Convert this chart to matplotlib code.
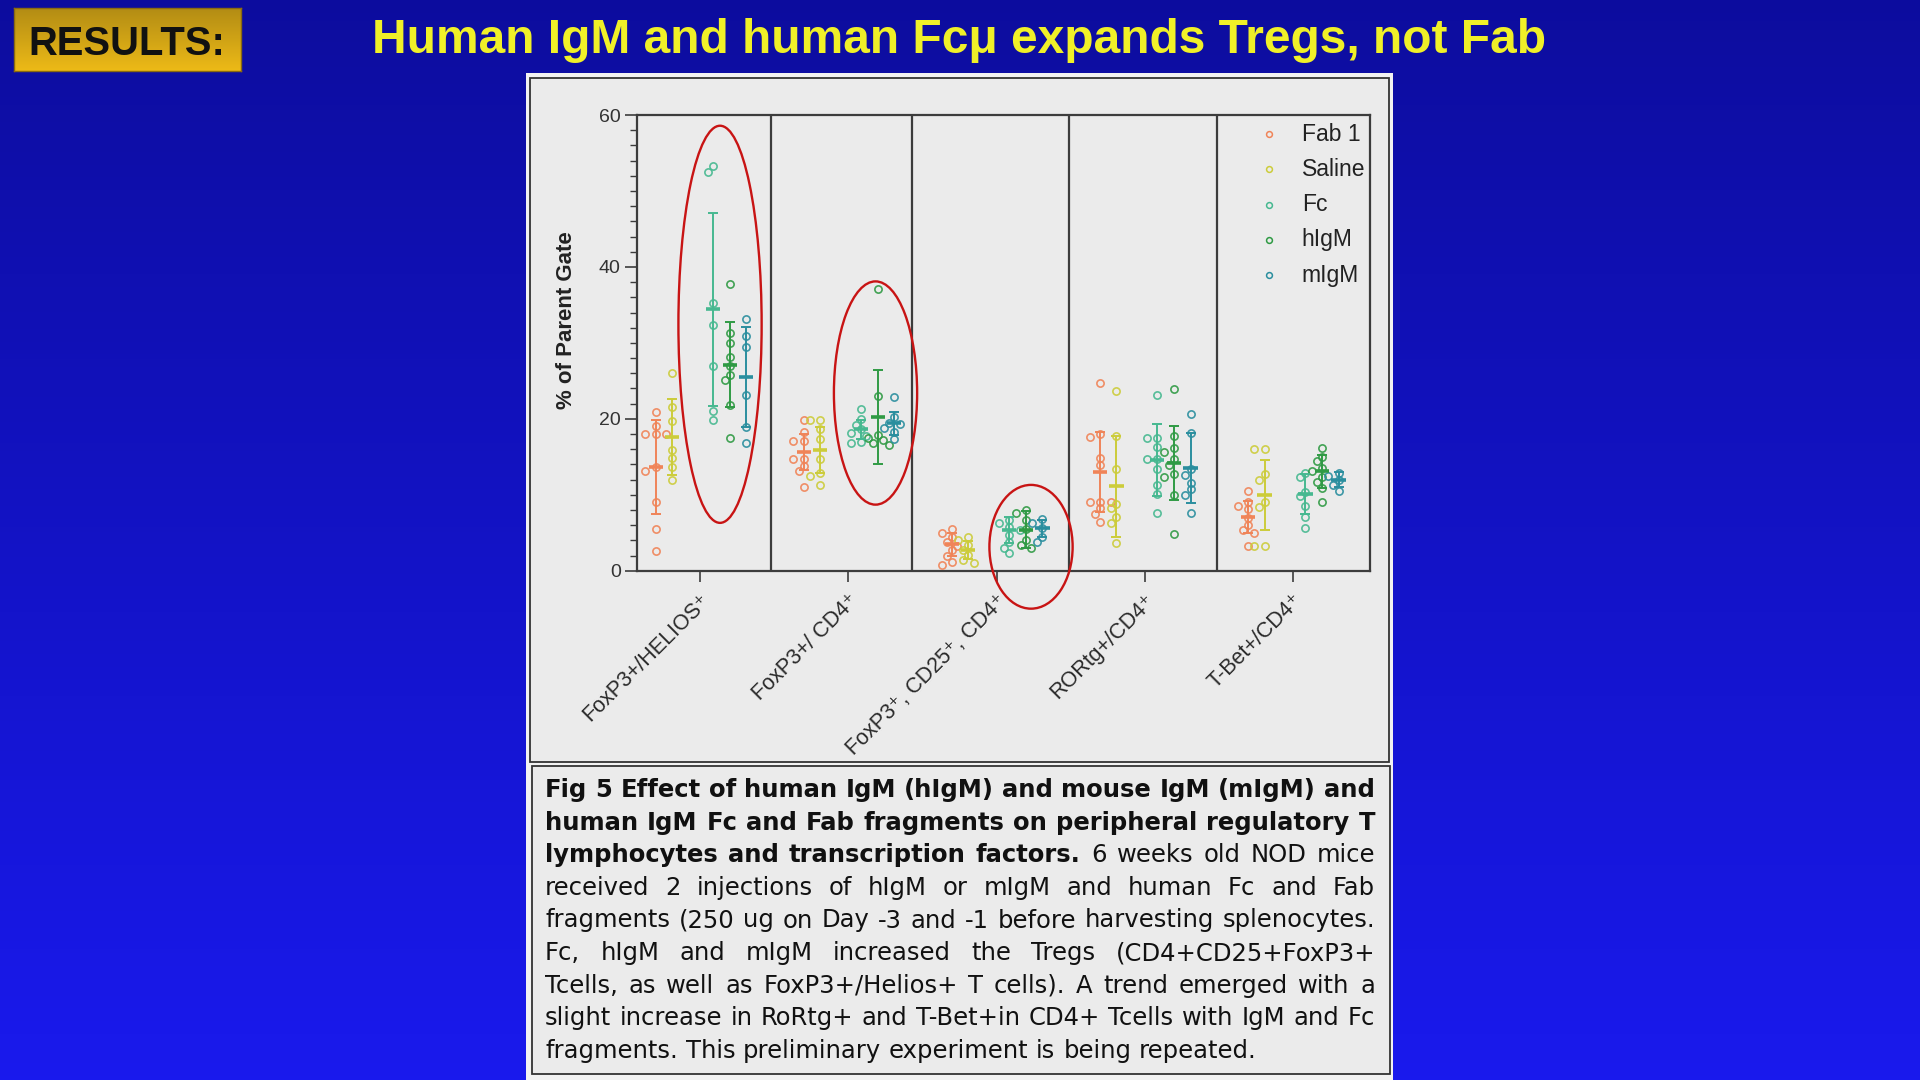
import numpy as np
import matplotlib
matplotlib.use("Agg")
import matplotlib.pyplot as plt
from matplotlib.patches import Rectangle, Ellipse
from matplotlib.ticker import MultipleLocator
import matplotlib.transforms as mtrans

# ---------------- data ----------------
categories = ["FoxP3+/HELIOS\u207a", "FoxP3+/ CD4\u207a", "FoxP3\u207a, CD25\u207a, CD4\u207a",
              "RORtg+/CD4\u207a", "T-Bet+/CD4\u207a"]
series = ["Fab 1", "Saline", "Fc", "hIgM", "mIgM"]

fab_values = [
    [20.9, 19.0, 18.0, 18.0, 18.0, 13.6, 13.1, 9.1, 5.5, 2.6],
    [19.8, 18.3, 17.1, 17.1, 14.7, 14.7, 13.8, 13.1, 11.0],
    [5.5, 5.0, 4.5, 3.8, 3.3, 2.7, 1.9, 1.2, 0.8],
    [24.7, 18.0, 17.6, 14.9, 13.9, 9.1, 9.1, 9.1, 8.2, 7.5, 6.4],
    [10.5, 9.0, 8.5, 8.1, 6.9, 6.0, 5.4, 4.9, 3.2],
]
fab_mean = [13.7, 15.6, 3.5, 13.0, 7.1]
fab_sd = [6.2, 2.4, 1.5, 5.3, 2.1]

saline_values = [
    [26.0, 21.5, 19.7, 15.9, 14.9, 13.6, 12.0],
    [19.8, 19.8, 18.6, 17.3, 14.7, 12.9, 12.5, 11.3],
    [4.5, 4.05, 3.4, 2.7, 2.1, 1.4, 1.0],
    [23.7, 17.8, 13.4, 8.8, 8.2, 7.1, 6.25, 3.7],
    [16.0, 16.0, 12.7, 12.0, 9.0, 8.4, 3.3, 3.3],
]
saline_mean = [17.6, 15.9, 2.7, 11.1, 10.0]
saline_sd = [5.0, 3.0, 1.2, 6.6, 4.6]

fc_values = [
    [53.3, 52.5, 35.3, 32.3, 27.0, 21.0, 19.9],
    [21.3, 20.0, 19.2, 18.6, 18.1, 17.8, 17.0, 16.8],
    [6.7, 6.25, 5.8, 5.4, 4.7, 3.8, 2.95, 2.3],
    [23.2, 17.5, 17.5, 16.3, 14.7, 14.7, 13.4, 11.3, 10.1, 7.6],
    [12.9, 12.3, 10.4, 9.8, 8.5, 7.1, 5.6],
]
fc_mean = [34.4, 18.6, 5.4, 14.6, 10.1]
fc_sd = [12.7, 1.3, 1.7, 4.7, 2.6]

higm_values = [
    [37.7, 31.3, 30.0, 28.2, 27.0, 25.8, 25.1, 21.8, 17.5],
    [37.1, 23.0, 17.9, 17.5, 17.2, 16.8, 16.5],
    [8.0, 7.6, 6.7, 5.5, 4.05, 3.4, 2.95],
    [23.9, 17.8, 16.1, 15.6, 14.7, 13.9, 12.8, 12.4, 10.0, 4.8],
    [16.2, 15.0, 14.4, 13.5, 13.1, 12.4, 11.7, 10.9, 9.0],
]
higm_mean = [27.1, 20.2, 5.4, 14.2, 13.1]
higm_sd = [5.6, 6.2, 2.4, 4.9, 2.2]

migm_values = [
    [33.1, 30.9, 29.5, 23.2, 18.9, 16.8],
    [22.9, 20.2, 19.5, 19.3, 18.8, 18.3, 17.3],
    [6.8, 6.3, 5.6, 4.5, 3.8],
    [20.7, 18.2, 13.4, 12.6, 11.6, 10.7, 10.0, 7.6],
    [12.9, 12.5, 12.0, 11.3, 10.5],
]
migm_mean = [25.5, 19.4, 5.6, 13.5, 12.0]
migm_sd = [6.6, 1.5, 1.1, 4.6, 1.0]

y_ticks = [0, 20, 40, 60]

# ---------------- styles ----------------
colors = ["#f08458", "#cccc3a", "#46b890", "#2f9a44", "#2a8e9e"]
offsets = [-0.30, -0.19, 0.086, 0.20, 0.31]
dividers = [0.48, 1.43, 2.49, 3.49]
ellipses = [((0.133, 32.45), 0.562, 52.3), ((1.183, 23.4), 0.562, 29.4), ((2.233, 3.15), 0.562, 16.3)]

SANS = ["Liberation Sans", "DejaVu Sans"]
CAPFONT = ["DejaVu Sans"]
plt.rcParams["font.family"] = SANS

W, H = 1920, 1080
fig = plt.figure(figsize=(19.2, 10.8), dpi=100)


def fr(x0, y0, x1, y1):
    return (x0 / W, 1 - y1 / H, (x1 - x0) / W, (y1 - y0) / H)


# background gradient
bg = fig.add_axes([0, 0, 1, 1], zorder=-10)
g = np.linspace(0, 1, 256)[:, None, None]
top = np.array([0.05, 0.05, 0.62])
bot = np.array([0.10, 0.10, 0.93])
bg.imshow(top + (bot - top) * g * np.ones((1, 2, 1)), aspect="auto", extent=[0, 1, 0, 1])
bg.axis("off")

# RESULTS box
rb = fig.add_axes(fr(13.5, 8, 241, 71), zorder=-5)
gt = np.array([0.70, 0.55, 0.08])
gb = np.array([0.93, 0.73, 0.09])
rb.imshow(gt + (gb - gt) * g * np.ones((1, 2, 1)), aspect="auto", extent=[0, 1, 0, 1])
rb.set_xticks([]); rb.set_yticks([])
for s in rb.spines.values():
    s.set_color("#8a6a10"); s.set_linewidth(1)

renderer = fig.canvas.get_renderer()

rt = fig.text(127 / W, 1 - 55 / H, "RESULTS:", fontsize=35, weight="bold",
              color="#111111", ha="center", va="baseline")
w = rt.get_window_extent(renderer).width
rt.set_fontsize(35 * min(1.1, 197 / w))

title = "Human IgM and human Fc\u03bc expands Tregs, not Fab"
tt = fig.text(959.4 / W, 1 - 53.3 / H, title, fontsize=35, weight="bold",
              color="#f0f028", ha="center", va="baseline")
w = tt.get_window_extent(renderer).width
tt.set_fontsize(35 * min(1.1, 1172 / w))

# figure panel boxes
ob = fr(526, 73, 1393, 1080)
fig.patches.append(Rectangle(ob[:2], *ob[2:], transform=fig.transFigure, facecolor="#f2f2f2",
                             edgecolor="none", zorder=-2))
for box in [(530, 78, 1389, 762), (532, 766, 1390, 1074)]:
    r = fr(*box)
    fig.patches.append(Rectangle(r[:2], *r[2:], transform=fig.transFigure, facecolor="#ebebeb",
                                 edgecolor="#333333", linewidth=1.3, zorder=-1))

# ---------------- main axes ----------------
ax = fig.add_axes([636.8 / W, 1 - 570.7 / H, (1370 - 636.8) / W, (570.7 - 115.1) / H], zorder=1)
ax.set_facecolor("none")
ax.set_xlim(-0.429, 4.522)
ax.set_ylim(0, 60)

SX = 733.2 / (4.522 + 0.429)
SY = 455.6 / 60.0


def swarm(vals, center, d=7.0):
    placed = []
    xs = [0.0] * len(vals)
    order = sorted(range(len(vals)), key=lambda i: -vals[i])
    for i in order:
        v = vals[i]
        for k in [0, -1, 1, -2, 2, -3, 3]:
            x = center + k * d * 0.75 / SX
            if all(((x - px) * SX) ** 2 + ((v - py) * SY) ** 2 >= (d * 0.95) ** 2 for px, py in placed):
                break
        placed.append((x, v))
        xs[i] = x
    return xs


all_vals = [fab_values, saline_values, fc_values, higm_values, migm_values]
all_mean = [fab_mean, saline_mean, fc_mean, higm_mean, migm_mean]
all_sd = [fab_sd, saline_sd, fc_sd, higm_sd, migm_sd]

for si in range(len(series)):
    c = colors[si]
    for ci in range(len(categories)):
        xc = ci + offsets[si]
        vals = all_vals[si][ci]
        xs = swarm(vals, xc)
        ax.plot(xs, vals, "o", mfc="none", mec=c, ms=5.2, mew=1.2, zorder=3, alpha=0.9)
        ax.errorbar([xc], [all_mean[si][ci]], yerr=[all_sd[si][ci]], fmt="none", ecolor=c,
                    elinewidth=1.4, capsize=3.5, capthick=1.4, zorder=4)
        ax.hlines(all_mean[si][ci], xc - 0.048, xc + 0.048, color=c, lw=2.6, zorder=4)

for xd in dividers:
    ax.axvline(xd, color="#3c3c3c", lw=1.6, zorder=2)

for (cx, cy), ew, eh in ellipses:
    ax.add_patch(Ellipse((cx, cy), ew, eh, fill=False, edgecolor="#c81414", lw=1.7, clip_on=False, zorder=6))

for s in ax.spines.values():
    s.set_color("#3c3c3c"); s.set_linewidth(1.6)

ax.set_yticks(y_ticks)
ax.yaxis.set_minor_locator(MultipleLocator(2))
ax.tick_params(axis="y", which="major", direction="out", length=8.5, width=1.2, colors="#3c3c3c",
               labelcolor="#333333", labelsize=14, pad=3)
ax.tick_params(axis="y", which="minor", direction="out", length=5, width=1.0, colors="#3c3c3c")
ax.set_xticks(range(len(categories)))
ax.set_xticklabels([])
ax.tick_params(axis="x", which="major", direction="out", length=8, width=1.2, colors="#3c3c3c")

lab_tr = mtrans.offset_copy(ax.transData, fig=fig, x=7, y=-27, units="dots")
for ci, name in enumerate(categories):
    ax.text(ci, 0, name, transform=lab_tr, rotation=45, rotation_mode="anchor", ha="right",
            va="center", fontsize=15.5, color="#2a2a2a", family=SANS)

fig.text(566.5 / W, 1 - 320 / H, "% of Parent Gate", rotation=90, ha="center", va="center",
         fontsize=16, weight="bold", color="#222222")

# legend
for si, name in enumerate(series):
    yy = 0.9585 - si * 0.0774
    ax.plot([0.8627], [yy], "o", transform=ax.transAxes, mfc="none", mec=colors[si], ms=4.2, mew=1.1,
            clip_on=False, zorder=5)
    ax.text(0.9069, yy, name, transform=ax.transAxes, ha="left", va="center", fontsize=16.5,
            color="#222222")

# ---------------- caption (justified) ----------------
cap_lines = [
    [("Fig 5  Effect of human IgM (hIgM) and mouse IgM (mIgM) and", "bold")],
    [("human IgM Fc and Fab fragments on peripheral regulatory T", "bold")],
    [("lymphocytes and transcription factors.", "bold"), ("6 weeks old NOD mice", "normal")],
    [("received 2 injections of hIgM or mIgM and human Fc and Fab", "normal")],
    [("fragments (250 ug on Day -3 and -1 before harvesting splenocytes.", "normal")],
    [("Fc, hIgM and mIgM increased the Tregs (CD4+CD25+FoxP3+", "normal")],
    [("Tcells, as well as FoxP3+/Helios+ T cells). A trend emerged with a", "normal")],
    [("slight increase in RoRtg+ and  T-Bet+in CD4+ Tcells with IgM and Fc", "normal")],
    [("fragments. This preliminary experiment is being repeated.", "normal")],
]
L, R = 545.0, 1375.0
base0, step = 797.3, 32.55


def measure(s, fs, wt):
    t = fig.text(0, 0, s, fontsize=fs, weight=wt, family=CAPFONT)
    wd = t.get_window_extent(renderer).width
    t.remove()
    return wd


words_all = []
for line in cap_lines:
    words = []
    for seg, wt in line:
        for wd in seg.split():
            words.append((wd, wt))
    words_all.append(words)

fs0 = 16.0
space0 = measure("x x", fs0, "normal") - measure("xx", fs0, "normal")
maxw = 0
for words in words_all[:-1]:
    tot = sum(measure(wd, fs0, wt) for wd, wt in words) + space0 * (len(words) - 1)
    maxw = max(maxw, tot)
fs = min(18.5, fs0 * (R - L) / maxw * 0.995)
space = measure("x x", fs, "normal") - measure("xx", fs, "normal")

for li, words in enumerate(words_all):
    widths = [measure(wd, fs, wt) for wd, wt in words]
    last = li == len(words_all) - 1
    gap = space if last else ((R - L) - sum(widths)) / (len(words) - 1)
    x = L
    yb = base0 + li * step
    for (wd, wt), wdt in zip(words, widths):
        fig.text(x / W, 1 - yb / H, wd, fontsize=fs, weight=wt, family=CAPFONT, color="#111111",
                 ha="left", va="baseline")
        x += wdt + gap

fig.savefig("out.png", dpi=100)
